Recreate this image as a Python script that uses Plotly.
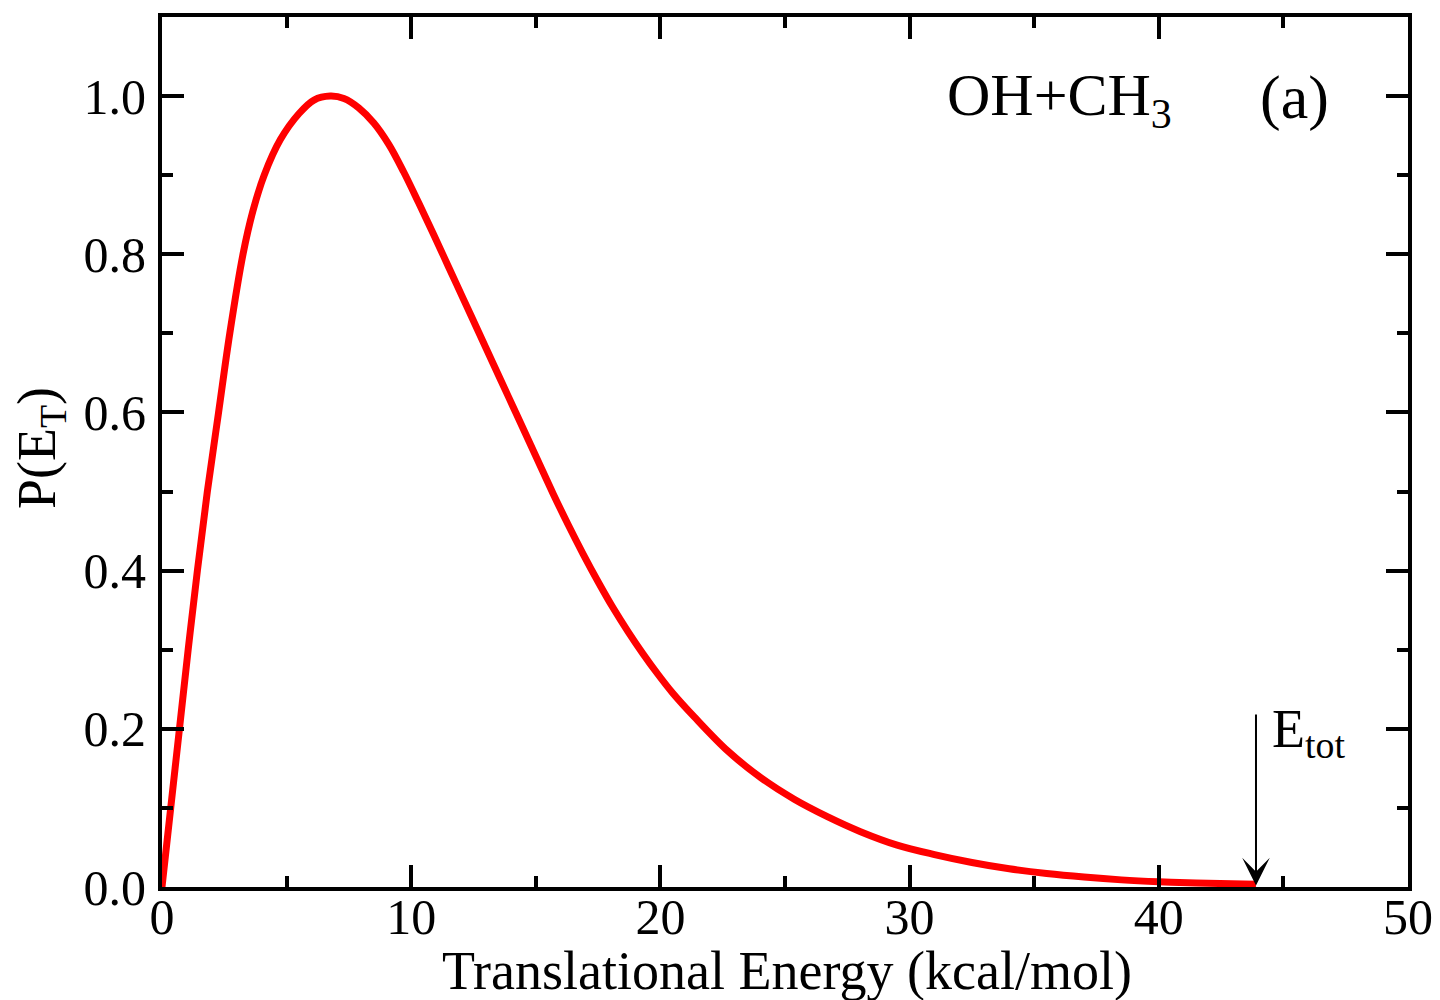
import plotly.graph_objects as go

# Translational energy distribution
energy = [0.0, 0.35, 0.7, 1.05, 1.42, 1.82, 2.27, 2.72, 3.25, 3.65, 4.1, 4.75, 5.5, 6.1, 6.75,
          7.3, 7.9, 8.5, 9.1, 9.7, 10.3, 10.9, 11.5, 12.1, 12.7, 13.3, 13.9, 14.5, 15.1,
          15.7, 16.3, 16.9, 17.5, 18.1, 18.7, 19.3, 19.9, 20.5, 21.36, 22.7, 24.04,
          25.37, 26.7, 28.03, 29.5, 31.0, 32.5, 34.0, 35.5, 37.0, 38.5, 40.0, 41.5, 43.9]
prob = [0.0, 0.1, 0.2, 0.3, 0.4, 0.5, 0.6, 0.7, 0.8, 0.855, 0.9, 0.945, 0.978, 0.995, 1.0,
        0.997, 0.985, 0.966, 0.939, 0.904, 0.865, 0.825, 0.784, 0.743, 0.702, 0.661, 0.620, 0.579, 0.538,
        0.497, 0.458, 0.421, 0.386, 0.353, 0.323, 0.295, 0.269, 0.245, 0.215, 0.172, 0.138,
        0.111, 0.089, 0.070, 0.053, 0.041, 0.031, 0.023, 0.017, 0.0125, 0.009, 0.0066, 0.005, 0.0035]

x_ticks = [0, 10, 20, 30, 40, 50]
x_tick_labels = ["0", "10", "20", "30", "40", "50"]
y_ticks = [0.0, 0.2, 0.4, 0.6, 0.8, 1.0]
y_tick_labels = ["0.0", "0.2", "0.4", "0.6", "0.8", "1.0"]

e_tot = 43.9
system_label = "OH+CH<sub>3</sub>"
panel_label = "(a)"
x_title = "Translational Energy (kcal/mol)"
y_title = "P(E<sub>T</sub>)"

FONT = "Liberation Serif, Times New Roman, serif"

W, H = 1440, 1000
L, R, T, B = 154, 40, 9, 121
pw, ph = W - L - R, H - T - B
OFF = 8  # page body margin offset of the rendered figure


def sx(px):  # screen px -> paper x
    return (px - OFF - L) / pw


def sy(py):  # screen px -> paper y
    return (H - B - (py - OFF)) / ph


fig = go.Figure()
fig.add_trace(go.Scatter(x=energy, y=prob, mode="lines",
                         line=dict(color="#ff0000", width=7, shape="spline", smoothing=1.0),
                         showlegend=False, hoverinfo="skip"))

axis_common = dict(
    showline=True, linecolor="black", linewidth=4, mirror="ticks",
    ticks="inside", ticklen=22, tickwidth=4, tickcolor="black",
    showgrid=False, zeroline=False,
    tickfont=dict(family=FONT, size=50, color="black"),
)

fig.update_xaxes(range=[0, 50], tickvals=x_ticks, ticktext=x_tick_labels,
                 ticklabelstandoff=-17,
                 minor=dict(dtick=5, ticklen=11, tickwidth=4, ticks="inside", tickcolor="black"),
                 **axis_common)
fig.update_yaxes(range=[0, 1.1], tickvals=y_ticks, ticktext=y_tick_labels,
                 ticklabelstandoff=2,
                 minor=dict(dtick=0.1, ticklen=11, tickwidth=4, ticks="inside", tickcolor="black"),
                 **axis_common)

annotations = [
    dict(text=x_title, xref="paper", yref="paper", x=sx(787), y=sy(971),
         xanchor="center", yanchor="middle", showarrow=False,
         font=dict(family=FONT, size=54, color="black")),
    dict(text=y_title, xref="paper", yref="paper", x=sx(40), y=sy(448),
         xanchor="center", yanchor="middle", textangle=-90, showarrow=False,
         font=dict(family=FONT, size=54, color="black")),
    dict(text=system_label, xref="paper", yref="paper", x=sx(945), y=sy(99),
         xanchor="left", yanchor="middle", showarrow=False,
         font=dict(family=FONT, size=60, color="black")),
    dict(text=panel_label, xref="paper", yref="paper", x=sx(1258), y=sy(97),
         xanchor="left", yanchor="middle", showarrow=False,
         font=dict(family=FONT, size=62, color="black")),
    dict(text="E<sub>tot</sub>", xref="paper", yref="paper", x=sx(1270), y=sy(732),
         xanchor="left", yanchor="middle", showarrow=False,
         font=dict(family=FONT, size=54, color="black")),
    dict(text="", xref="x", yref="y", x=e_tot, y=0.002, ax=e_tot, ay=0.22,
         axref="x", ayref="y", showarrow=True, arrowhead=3, arrowsize=2.3,
         arrowwidth=2, arrowcolor="black", standoff=0),
]

fig.update_layout(
    width=W, height=H,
    margin=dict(l=L, r=R, t=T, b=B, autoexpand=False),
    paper_bgcolor="white", plot_bgcolor="white",
    annotations=annotations,
    font=dict(family=FONT, color="black"),
)

fig.write_html("out.html")
